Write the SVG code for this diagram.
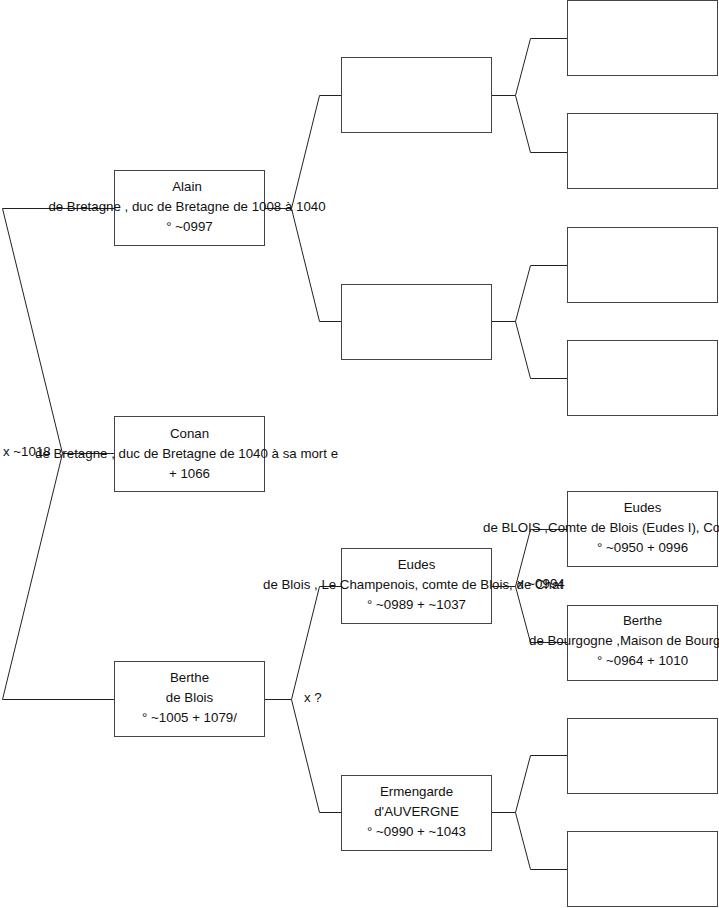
<svg xmlns="http://www.w3.org/2000/svg" width="719" height="908" viewBox="0 0 719 908">
<style>
.box{fill:#fff;stroke:#444;stroke-width:1}
.ln{fill:none;stroke:#222;stroke-width:1}
text{font-family:"Liberation Sans",Arial,sans-serif;font-size:13.3px;fill:#111}
.c{text-anchor:middle}
</style>
<rect width="719" height="908" fill="#fff"/>
<g id="connectors">
<path class="ln" d="M114,208.5 H2.5 L62.5,453.5 L2.5,699.5 H114 M62.5,453.5 H114"/>
<path class="ln" d="M265,208.5 H291.5 L319.5,95.5 H341 M291.5,208.5 L319.5,321.5 H341"/>
<path class="ln" d="M265,699.5 H291.5 L319.5,586.5 H341 M291.5,699.5 L319.5,812.5 H341"/>
<path class="ln" d="M491,95.5 H515.5 L530.5,38.5 H567 M515.5,95.5 L530.5,152.5 H567"/>
<path class="ln" d="M491,321.5 H515.5 L530.5,265.5 H567 M515.5,321.5 L530.5,378.5 H567"/>
<path class="ln" d="M491,586.5 H515.5 L530.5,529.5 H567 M515.5,586.5 L530.5,642.5 H567"/>
<path class="ln" d="M491,812.5 H515.5 L530.5,755.5 H567 M515.5,812.5 L530.5,869.5 H567"/>
</g>
<g id="n_alain"><rect class="box" x="114.5" y="170.5" width="150" height="75"/>
<text class="c" x="187" y="191">Alain</text>
<text class="c" x="187" y="211">de Bretagne , duc de Bretagne de 1008 à 1040</text>
<text class="c" x="189.5" y="231">° ~0997</text></g>
<g id="n_conan"><rect class="box" x="114.5" y="416.5" width="150" height="75"/>
<text class="c" x="189.5" y="438">Conan</text>
<text x="35" y="458">de Bretagne , duc de Bretagne de 1040 à sa mort e</text>
<text class="c" x="189.5" y="478">+ 1066</text></g>
<g id="n_berthe1"><rect class="box" x="114.5" y="661.5" width="150" height="75"/>
<text class="c" x="189.5" y="682">Berthe</text>
<text class="c" x="189.5" y="702">de Blois</text>
<text class="c" x="189.5" y="722">° ~1005 + 1079/</text></g>
<g id="n_c2a"><rect class="box" x="341.5" y="57.5" width="150" height="75"/></g>
<g id="n_c2b"><rect class="box" x="341.5" y="284.5" width="150" height="75"/></g>
<g id="n_eudes2"><rect class="box" x="341.5" y="548.5" width="150" height="75"/>
<text class="c" x="416.5" y="569">Eudes</text>
<text x="263" y="589">de Blois , Le Champenois, comte de Blois, de Chat</text>
<text class="c" x="416.5" y="609">° ~0989 + ~1037</text></g>
<g id="n_ermengarde"><rect class="box" x="341.5" y="775.5" width="150" height="75"/>
<text class="c" x="416.5" y="796">Ermengarde</text>
<text class="c" x="416.5" y="816">d'AUVERGNE</text>
<text class="c" x="416.5" y="836">° ~0990 + ~1043</text></g>
<g id="n_c3a"><rect class="box" x="567.5" y="0.5" width="150" height="75"/></g>
<g id="n_c3b"><rect class="box" x="567.5" y="113.5" width="150" height="75"/></g>
<g id="n_c3c"><rect class="box" x="567.5" y="227.5" width="150" height="75"/></g>
<g id="n_c3d"><rect class="box" x="567.5" y="340.5" width="150" height="75"/></g>
<g id="n_eudes3"><rect class="box" x="567.5" y="491.5" width="150" height="75"/>
<text class="c" x="642.5" y="512">Eudes</text>
<text x="483" y="532">de BLOIS ,Comte de Blois (Eudes I), Co</text>
<text class="c" x="642.5" y="552">° ~0950 + 0996</text></g>
<g id="n_berthe3"><rect class="box" x="567.5" y="605.5" width="150" height="75"/>
<text class="c" x="642.5" y="625">Berthe</text>
<text x="529" y="645">de Bourgogne ,Maison de Bourg</text>
<text class="c" x="642.5" y="665">° ~0964 + 1010</text></g>
<g id="n_c3g"><rect class="box" x="567.5" y="718.5" width="150" height="75"/></g>
<g id="n_c3h"><rect class="box" x="567.5" y="831.5" width="150" height="75"/></g>
<g id="labels">
<text x="3" y="456">x ~1018</text>
<text x="304" y="702">x ?</text>
<text x="517" y="588">x ~0994</text>
</g>
</svg>
